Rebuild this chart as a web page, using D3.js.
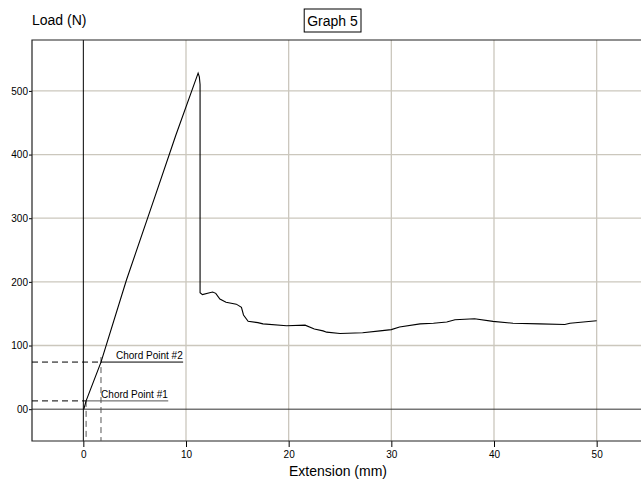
<!DOCTYPE html>
<html>
<head>
<meta charset="utf-8">
<script src="https://cdn.jsdelivr.net/npm/d3@7"></script>
<style>
  body { margin: 0; background: #fff; }
  svg { display: block; font-family: "Liberation Sans", Arial, sans-serif; }
</style>
</head>
<body>
<svg id="chart" width="641" height="479"></svg>
<script>
// load vs extension readings (mm, N)
var extension = [0.05, 0.27, 1.72, 4.2, 7.0, 9.0, 11.18, 11.3, 11.37, 11.37, 11.6, 12.3, 12.6, 12.9, 13.3, 13.9, 14.9, 15.4, 15.6, 16.05,
    17.0, 17.5, 19.8, 21.6, 22.5, 23.35, 23.7, 25.0, 27.2, 28.9, 30.0, 30.8, 32.8, 34.1, 35.4, 36.2, 38.1, 39.9, 41.85, 44.45, 46.9, 47.4, 50.0];
var load = [0, 13, 74, 203, 335, 430, 528, 522, 510, 183, 180, 183, 184, 182, 173, 168, 165, 160, 148, 138,
    136, 134, 131, 132, 126, 123, 121, 119, 120, 123, 125, 129, 134, 135, 137, 140.5, 142, 138, 135, 134, 133, 135, 139];

var chordNames = ["Chord Point #1", "Chord Point #2"];
var chordExt = [0.27, 1.72];
var chordLoad = [13, 74];

var xTicks = [0, 10, 20, 30, 40, 50];
var yTicks = [0, 100, 200, 300, 400, 500];
var yTickLabels = ["00", "100", "200", "300", "400", "500"];

var svg = d3.select("#chart");

var x = d3.scaleLinear().domain([-5, 55]).range([32, 648]);
var y = d3.scaleLinear().domain([-50, 580]).range([441, 40]);

//gridlines
svg.append("g")
    .selectAll("line")
    .data(xTicks.filter(d => d !== 0))
    .enter().append("line")
    .attr("x1", d => x(d)).attr("x2", d => x(d))
    .attr("y1", y(580)).attr("y2", y(-50))
    .attr("stroke", "#cbc7bd")
    .attr("stroke-width", 1.3);

svg.append("g")
    .selectAll("line")
    .data(yTicks.filter(d => d !== 0))
    .enter().append("line")
    .attr("x1", x(-5)).attr("x2", 641)
    .attr("y1", d => y(d)).attr("y2", d => y(d))
    .attr("stroke", "#cbc7bd")
    .attr("stroke-width", 1.3);

//zero lines
svg.append("line")
    .attr("x1", x(-5)).attr("x2", 641)
    .attr("y1", y(0)).attr("y2", y(0))
    .attr("stroke", "#333")
    .attr("stroke-width", 1);
svg.append("line")
    .attr("x1", x(0)).attr("x2", x(0))
    .attr("y1", y(580)).attr("y2", y(-50))
    .attr("stroke", "#000")
    .attr("stroke-width", 1);

//axes
var yAxis = svg.append("g")
    .attr("transform", "translate(" + x(-5) + ",0)")
    .call(d3.axisLeft(y).tickValues(yTicks).tickSize(3).tickPadding(1)
        .tickFormat((d, i) => yTickLabels[i]));
yAxis.select(".domain").remove();
yAxis.selectAll("text").style("font-size", "10px").style("font-family", "Liberation Sans, Arial, sans-serif");

var xAxis = svg.append("g")
    .attr("transform", "translate(0," + y(-50) + ")")
    .call(d3.axisBottom(x).tickValues(xTicks).tickSize(6).tickPadding(4));
xAxis.select(".domain").remove();
xAxis.selectAll("text").style("font-size", "10px").style("font-family", "Liberation Sans, Arial, sans-serif");

//frame
svg.append("path")
    .attr("d", "M641," + y(580) + "H" + x(-5) + "V" + y(-50) + "H641")
    .attr("fill", "none")
    .attr("stroke", "#222")
    .attr("stroke-width", 1.2);

//chord point guides
chordExt.forEach(function(cx, i) {
    svg.append("line")
        .attr("x1", x(-5)).attr("x2", x(cx))
        .attr("y1", y(chordLoad[i])).attr("y2", y(chordLoad[i]))
        .attr("stroke", "#000")
        .attr("stroke-dasharray", "6,4");
    svg.append("line")
        .attr("x1", x(cx)).attr("x2", x(cx))
        .attr("y1", y(chordLoad[i]) - (i === 1 ? 5 : 0)).attr("y2", y(-50))
        .attr("stroke", "#555")
        .attr("stroke-dasharray", "6,4");
    svg.append("line")
        .attr("x1", x(cx)).attr("x2", x(cx + 8))
        .attr("y1", y(chordLoad[i])).attr("y2", y(chordLoad[i]))
        .attr("stroke", i === 0 ? "#555" : "#000")
        .attr("stroke-width", 1);
    svg.append("text")
        .attr("x", x(cx) + 15)
        .attr("y", y(chordLoad[i]) - 3)
        .style("font-size", "10px")
        .text(chordNames[i]);
});

//curve
var line = d3.line()
    .x((d, i) => x(extension[i]))
    .y(d => y(d));
svg.append("path")
    .datum(load)
    .attr("d", line)
    .attr("fill", "none")
    .attr("stroke", "#000")
    .attr("stroke-width", 1.1);

//labels
svg.append("text")
    .attr("x", 32).attr("y", 25)
    .style("font-size", "14px")
    .text("Load (N)");

svg.append("text")
    .attr("x", 338).attr("y", 476)
    .attr("text-anchor", "middle")
    .style("font-size", "14px")
    .text("Extension (mm)");

var title = svg.append("text")
    .attr("x", 332.5).attr("y", 26)
    .attr("text-anchor", "middle")
    .style("font-size", "14px")
    .text("Graph 5");
var bb = title.node().getBBox();
svg.append("rect")
    .attr("x", bb.x - 3).attr("y", 9)
    .attr("width", bb.width + 6).attr("height", 23)
    .attr("fill", "none")
    .attr("stroke", "#000")
    .attr("stroke-width", 1);
</script>
</body>
</html>
